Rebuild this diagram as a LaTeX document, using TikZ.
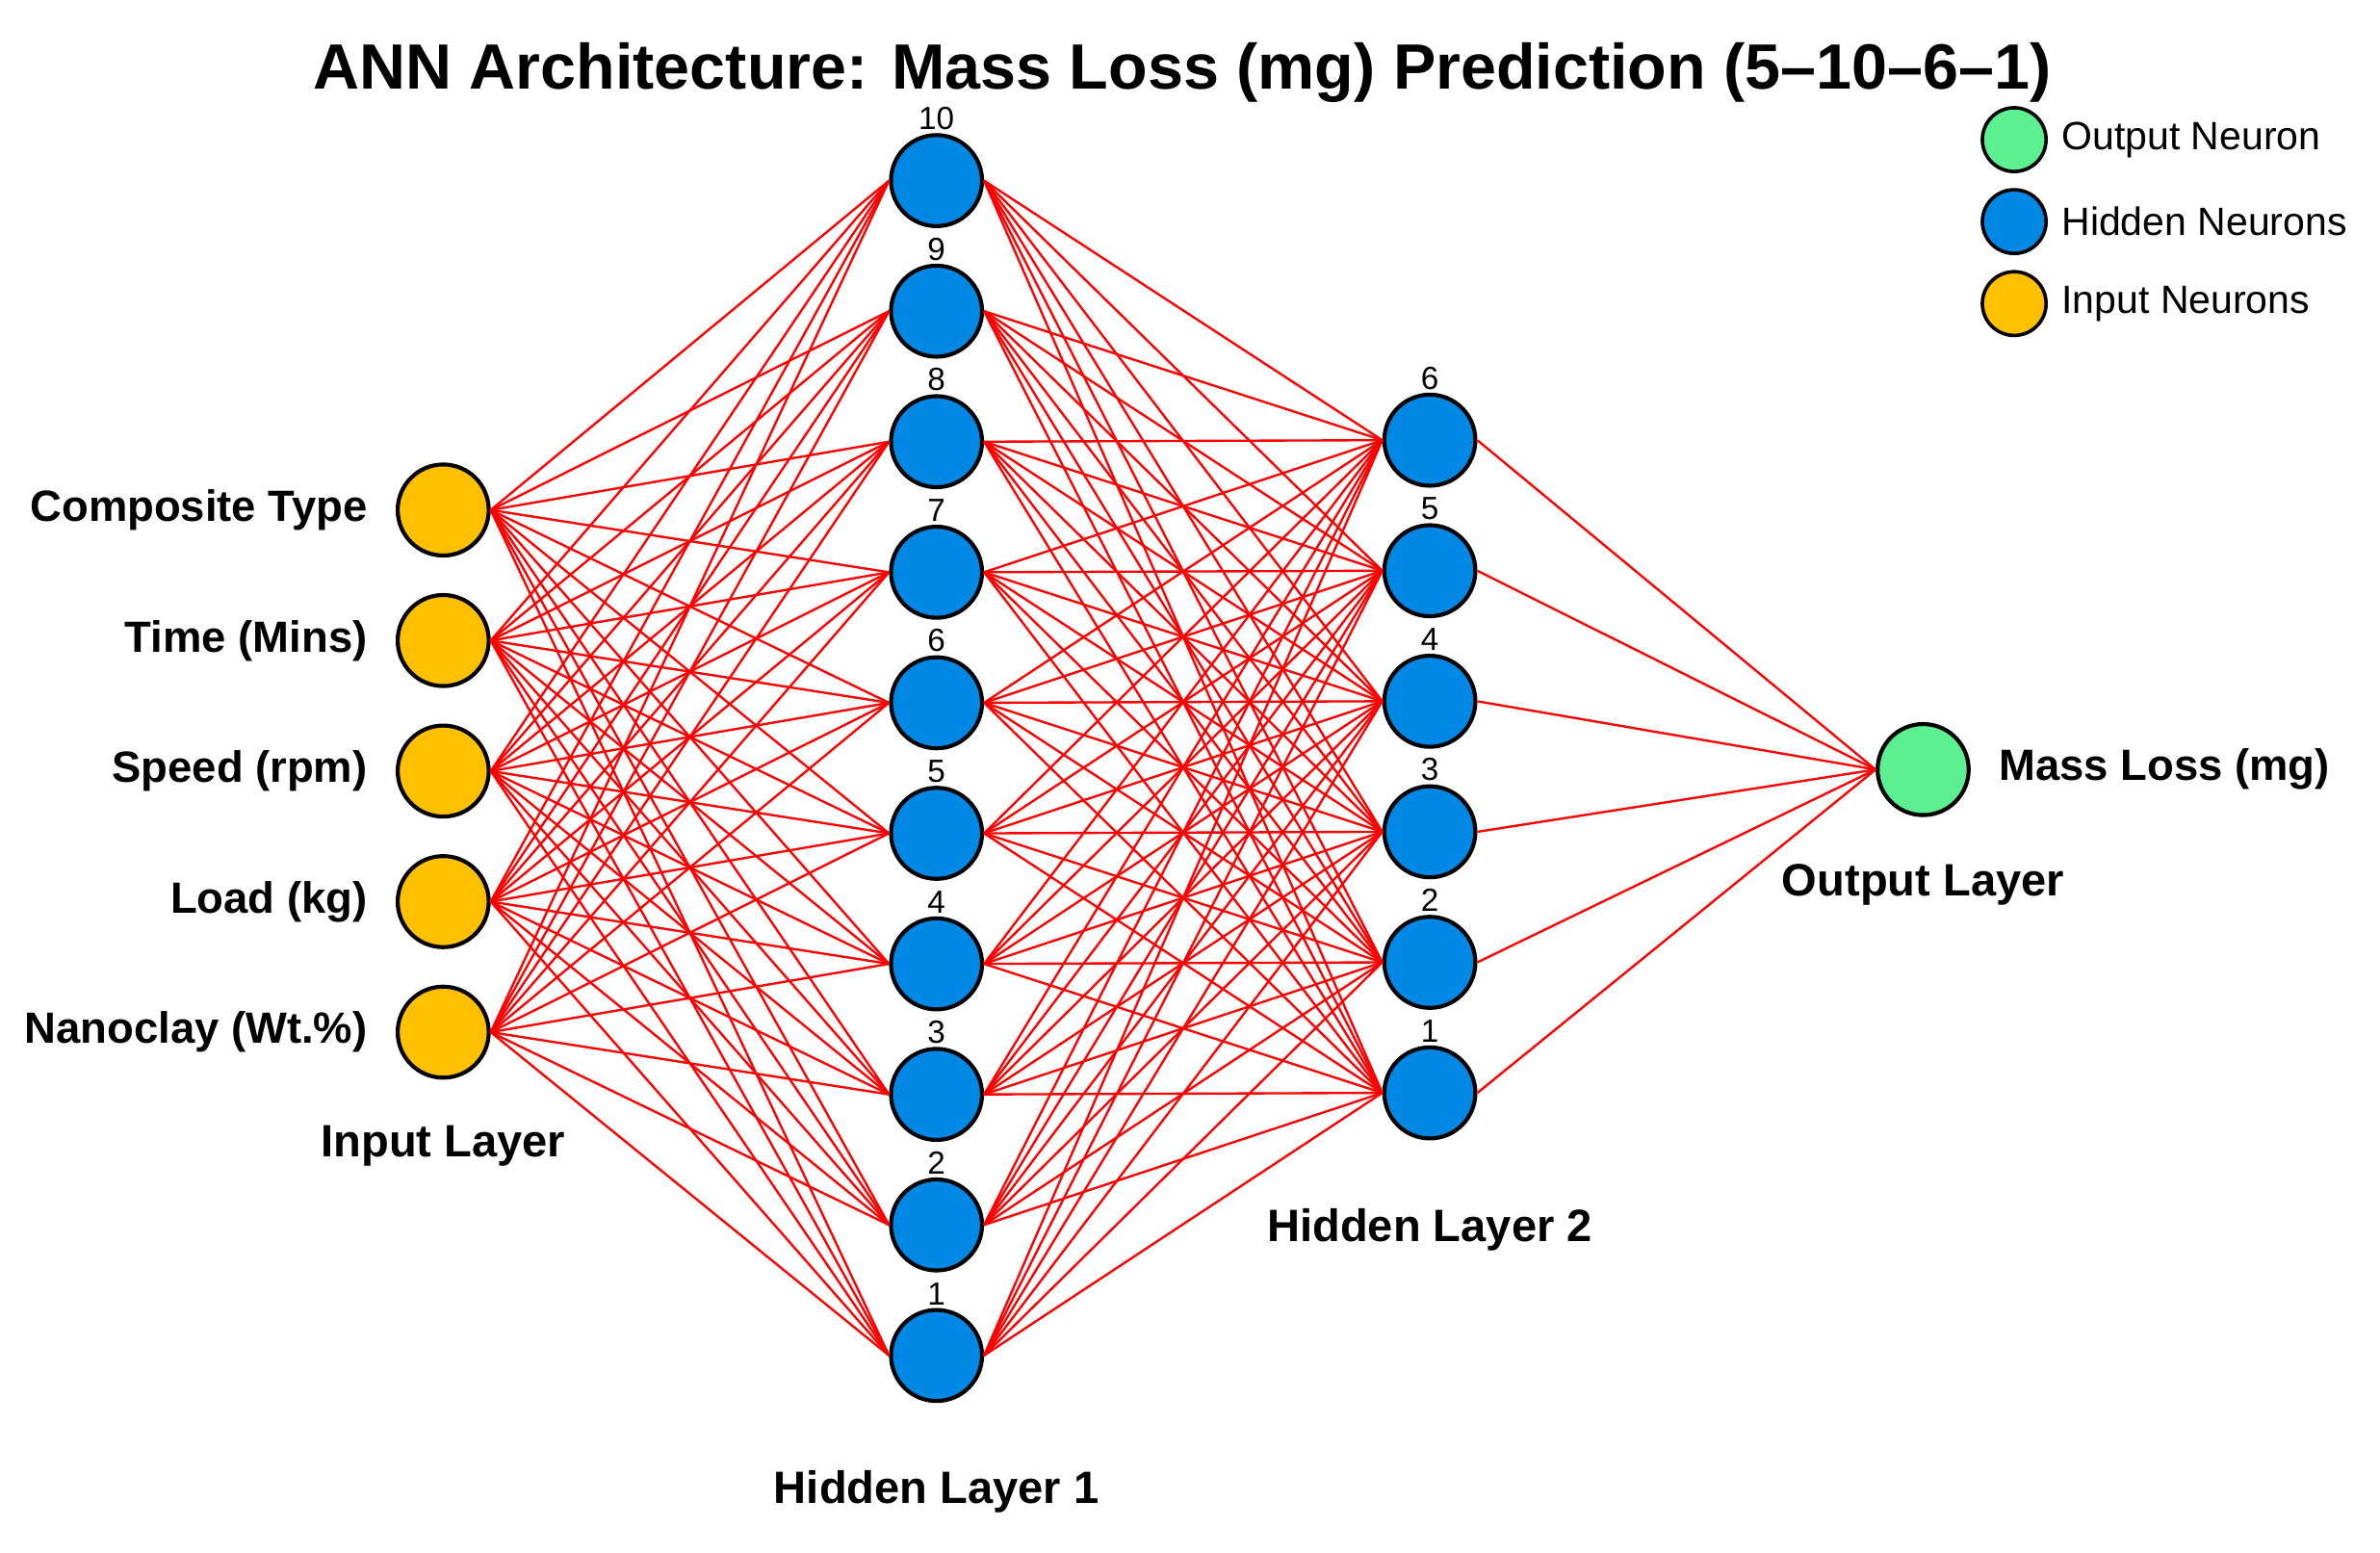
\documentclass[tikz,border=0pt]{standalone}
\usepackage{fontspec}
\setmainfont{Liberation Sans}
\usetikzlibrary{positioning}
\definecolor{InGold}{HTML}{FFC000}
\definecolor{HidBlue}{HTML}{0088E4}
\definecolor{OutGreen}{HTML}{5CF090}
\definecolor{LinkRed}{HTML}{FF0000}

\begin{document}
\begin{tikzpicture}[x=0.02cm,y=-0.02cm,
    neuron/.style={circle,draw=black,line width=1.5pt,minimum size=1.2cm,inner sep=0pt},
    inneuron/.style={neuron,fill=InGold},
    hidneuron/.style={neuron,fill=HidBlue},
    outneuron/.style={neuron,fill=OutGreen},
    keydot/.style={circle,draw=black,line width=1.3pt,minimum size=0.84cm,inner sep=0pt},
    link/.style={draw=LinkRed,line width=0.85pt},
    featlabel/.style={font=\fontsize{16.4}{19}\selectfont\bfseries},
    layerlabel/.style={font=\fontsize{17}{20}\selectfont\bfseries},
    idx/.style={font=\fontsize{12}{14}\selectfont,inner sep=1pt},
    keytext/.style={font=\fontsize{14.8}{17}\selectfont}
  ]
  \useasboundingbox (0,0) rectangle (1568,1023);

  \node[font=\fontsize{24}{28}\selectfont\bfseries] (title) at (779,48) {ANN Architecture: Mass Loss (mg) Prediction (5–10–6–1)};

  % input layer
  \foreach \feat [count=\i] in {Composite Type,Time (Mins),Speed (rpm),Load (kg),Nanoclay (Wt.\%)} {
    \node[inneuron] (in\i) at (292,{336+(\i-1)*86}) {};
    \node[featlabel,left=2.5mm of in\i] (feat\i) {\feat};
  }
  % hidden layers
  \foreach \k in {1,...,10}
    \node[hidneuron,label={[idx]above:\k}] (ha\k) at (617,{893-(\k-1)*86}) {};
  \foreach \k in {1,...,6}
    \node[hidneuron,label={[idx]above:\k}] (hb\k) at (942,{720-(\k-1)*86}) {};
  % output layer
  \node[outneuron] (out) at (1267,507) {};
  \node[featlabel,right=2.5mm of out] (target) {Mass Loss (mg)};

  % weights
  \foreach \i in {1,...,5}
    \foreach \k in {1,...,10}
      \draw[link] (in\i.east) -- (ha\k.west);
  \foreach \k in {1,...,10}
    \foreach \m in {1,...,6}
      \draw[link] (ha\k.east) -- (hb\m.west);
  \foreach \m in {1,...,6}
    \draw[link] (hb\m.east) -- (out.west);

  \node[layerlabel] (inlayer) at (292,755) {Input Layer};
  \node[layerlabel] (h1layer) at (617,983) {Hidden Layer 1};
  \node[layerlabel] (h2layer) at (942,810) {Hidden Layer 2};
  \node[layerlabel] (outlayer) at (1267,583) {Output Layer};

  % legend
  \node[keydot,fill=OutGreen] (keyout) at (1327,92) {};
  \node[keydot,fill=HidBlue] (keyhid) at (1327,146) {};
  \node[keydot,fill=InGold] (keyin) at (1327,200) {};
  \node[keytext,right=0.6mm of keyout] (keyouttxt) {Output Neuron};
  \node[keytext,right=0.6mm of keyhid] (keyhidtxt) {Hidden Neurons};
  \node[keytext,right=0.6mm of keyin] (keyintxt) {Input Neurons};
\end{tikzpicture}
\end{document}
